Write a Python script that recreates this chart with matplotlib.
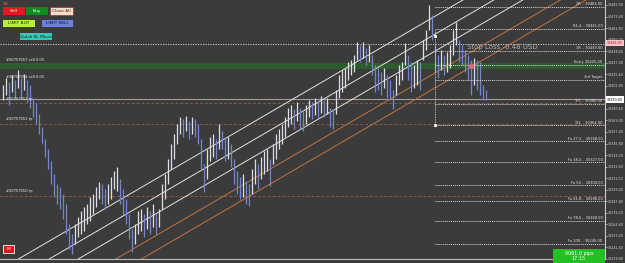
import matplotlib
matplotlib.use("Agg")
import matplotlib.pyplot as plt
from matplotlib.patches import Rectangle
import numpy as np

# Bars (high / low), one per candle, left to right
bar_high = [30405, 30412, 30408, 30415, 30410, 30420, 30412, 30416, 30410, 30405,
            30392, 30387, 30375, 30362, 30350, 30340, 30328, 30315, 30305, 30302,
            30295, 30285, 30265, 30255, 30265, 30272, 30278, 30282, 30285, 30292,
            30295, 30302, 30307, 30305, 30300, 30305, 30312, 30318, 30322, 30310,
            30300, 30290, 30275, 30260, 30265, 30278, 30280, 30275, 30282, 30278,
            30285, 30275, 30280, 30305, 30315, 30330, 30345, 30355, 30365, 30372,
            30370, 30373, 30368, 30372, 30370, 30365, 30350, 30325, 30340, 30352,
            30355, 30350, 30365, 30358, 30350, 30352, 30345, 30330, 30318, 30312,
            30315, 30308, 30305, 30320, 30330, 30325, 30332, 30338, 30340, 30330,
            30345, 30355, 30360, 30365, 30372, 30382, 30385, 30380, 30388, 30382,
            30378, 30385, 30390, 30388, 30392, 30390, 30394, 30390, 30392, 30382,
            30380, 30400, 30415, 30420, 30422, 30428, 30430, 30435, 30448, 30445,
            30448, 30442, 30445, 30435, 30425, 30422, 30418, 30422, 30415, 30410,
            30400, 30415, 30425, 30428, 30447, 30435, 30428, 30425, 30430, 30428,
            30450, 30460, 30485, 30475, 30445, 30435, 30440, 30435, 30438, 30445,
            30460, 30468, 30450, 30445, 30440, 30435, 30430, 30432, 30430, 30428,
            30405, 30400]
bar_low = [30390, 30395, 30385, 30398, 30390, 30402, 30392, 30400, 30388, 30382,
           30372, 30365, 30355, 30345, 30332, 30320, 30305, 30292, 30285, 30280,
           30270, 30255, 30240, 30235, 30245, 30252, 30255, 30258, 30265, 30268,
           30275, 30282, 30290, 30285, 30280, 30285, 30290, 30300, 30298, 30285,
           30275, 30265, 30250, 30237, 30245, 30255, 30258, 30252, 30260, 30255,
           30262, 30255, 30262, 30280, 30290, 30305, 30320, 30330, 30345, 30355,
           30352, 30358, 30350, 30355, 30352, 30345, 30320, 30297, 30310, 30328,
           30332, 30330, 30340, 30340, 30328, 30330, 30322, 30305, 30295, 30290,
           30292, 30285, 30283, 30295, 30305, 30300, 30310, 30315, 30318, 30303,
           30325, 30330, 30340, 30345, 30352, 30362, 30365, 30360, 30368, 30360,
           30358, 30365, 30372, 30370, 30374, 30370, 30376, 30372, 30375, 30362,
           30360, 30375, 30392, 30398, 30402, 30410, 30415, 30418, 30430, 30428,
           30432, 30425, 30428, 30415, 30398, 30400, 30395, 30402, 30392, 30390,
           30380, 30395, 30405, 30410, 30425, 30410, 30398, 30402, 30405, 30400,
           30430, 30440, 30460, 30450, 30418, 30412, 30420, 30415, 30418, 30422,
           30435, 30445, 30428, 30425, 30418, 30410, 30395, 30405, 30400, 30395,
           30390, 30390]

# Trend channel lines: price at bar -1 and at bar 200
channel_start = [30219, 30201, 30184, 30162, 30147]
channel_end = [30572, 30554, 30537, 30515, 30500]
channel_colors = ["#e4e4da", "#e4e4da", "#e4e4da", "#c27442", "#c27442"]

# Trade levels on the right
level_prices = [30483, 30461, 30439, 30425, 30410, 30386, 30364, 30348, 30327,
                30304, 30288, 30268, 30245]
level_labels = ["2R .. 30483.00", "R1.4 .. 30461.00", "1R .. 30439.00", "Entry 30425.00",
                "3rd Target", "TP1 .. 30386.00", "TS1 .. 30364.00", "Fu 27.2 .. 30348.00",
                "Fu 38.2 .. 30327.00", "Fu 50 .. 30304.00", "Fu 61.8 .. 30288.00",
                "Fu 78.6 .. 30268.00", "Fu 100 .. 30245.00"]
level_start_bar = 144

stop_loss = 30446
current_price = 30390
entry_band = (30421, 30427)
gray_line = 30391
brown_lines = [30387, 30365, 30293]

order_prices = [30427, 30410, 30388, 30367, 30295]
order_labels = ["#30757057 sell 0.05", "#30757054 sell 0.05", "#30757052 tp",
                "#30757051 tp", "#30757050 tp"]

W, H = 625, 263
bg = "#3b3b3b"
fig = plt.figure(figsize=(W / 100, H / 100), dpi=100)
fig.patch.set_facecolor(bg)
ax = fig.add_axes([0, 4 / H, 605 / W, 259 / H])
ax.set_facecolor(bg)
ax.set_xlim(-1, 200.67)
ax.set_ylim(30231, 30490)

# horizontal full-width lines
ax.axhspan(*entry_band, color="#2f5c2f", lw=0)
ax.axhline(stop_loss, color="#e0e0e0", lw=0.6, ls=(0, (1.5, 1.5)))
ax.axhline(gray_line, color="#9c9c9c", lw=0.8)
for p in brown_lines:
    ax.axhline(p, color="#8e5744", lw=0.7, ls=(0, (3, 2)))

# channel
for s, e, c in zip(channel_start, channel_end, channel_colors):
    ax.plot([-1, 200], [s, e], color=c, lw=0.7)

# bars
x = np.arange(len(bar_high))
mid = (np.array(bar_high) + np.array(bar_low)) / 2
cols = ["#dcdee8" if i == 0 or mid[i] >= mid[i - 1] else "#7386d0" for i in x]
ax.vlines(x, bar_low, bar_high, colors=cols, lw=0.9)

# trade levels
for p, lab in zip(level_prices, level_labels):
    ax.plot([level_start_bar, 200.67], [p, p], color="#d8d8d8", lw=0.7,
            ls=(0, (1, 1)))
    ax.text(199.8, p + 0.5, lab, color="#e8e8e8", fontsize=2.6, ha="right", va="bottom")
ax.plot([level_start_bar, level_start_bar], [30460, 30364], color="#e0e0e0", lw=0.6,
        ls=(0, (1, 1)))
ax.plot([level_start_bar] * 2, [30454, 30364], "s", color="#f0f0f0", ms=1.2)
ax.text(154.7, 30443, "Stop Loss -0.48 USD", color="#b9a9a9", fontsize=5, va="center")
ax.plot(156, 30424, "o", color="#e06868", ms=3)

# order labels on the left
for p, lab in zip(order_prices, order_labels):
    ax.text(1, p + 1, lab, color="#f0f0f0", fontsize=2.6, va="bottom")

# right price axis
ax.yaxis.tick_right()
ticks = 30485 - 11.6 * np.arange(23)
ax.set_yticks(ticks)
ax.set_yticklabels(["" if abs(t - current_price) < 5 else "%.2f" % t for t in ticks])
ax.tick_params(axis="y", colors="#d8d8d8", labelsize=2.3, length=1.2, width=0.5, pad=0.6)
ax.set_xticks([])
for s in ["top", "left"]:
    ax.spines[s].set_visible(False)
ax.spines["right"].set_color("#c8c8c8")
ax.spines["right"].set_linewidth(0.8)
ax.spines["bottom"].set_color("#bdbdbd")
ax.spines["bottom"].set_linewidth(0.8)


def box(x0, y0, w, h, fc, text, tc, fs=3.2, ec="none"):
    r = Rectangle((x0 / W, 1 - (y0 + h) / H), w / W, h / H, transform=fig.transFigure,
                  facecolor=fc, edgecolor=ec, lw=0.6, zorder=5)
    fig.add_artist(r)
    fig.text((x0 + w / 2) / W, 1 - (y0 + h / 2) / H, text, color=tc, fontsize=fs,
             ha="center", va="center", zorder=6, linespacing=1.1)


box(3, 7, 22, 8, "#e8141e", "Sell", "#ffffff")
box(26, 7, 22, 8, "#0f8a1f", "Buy", "#ffffff")
box(50, 7, 23, 8, "#f2dccc", "Close All", "#502020", ec="#a04040")
box(3, 20, 32, 7, "#b8f040", "LIMIT BUY", "#202020")
box(42, 20, 31, 7, "#6b80e0", "LIMIT SELL", "#101030")
box(20, 33, 32, 7, "#38c8b8", "Quick SL Move", "#102020")
box(3, 245, 11, 8, "#e01818", "M", "#ffffff", ec="#ffffff")
box(553, 249, 52, 14, "#22c022", "9061.0 pips\n17:15", "#ffffff", fs=3.5)
box(606, 96, 18, 7, "#ffffff", "%.2f" % current_price, "#000000", fs=2.3)
box(606, 40, 18, 6, "#f4c4cc", "%.2f" % stop_loss, "#c01010", fs=2.3)
fig.text(3 / W, 1 - 4 / H, "CB", color="#ff5050", fontsize=3, va="center")

fig.savefig("out.png", dpi=100, facecolor=bg)
